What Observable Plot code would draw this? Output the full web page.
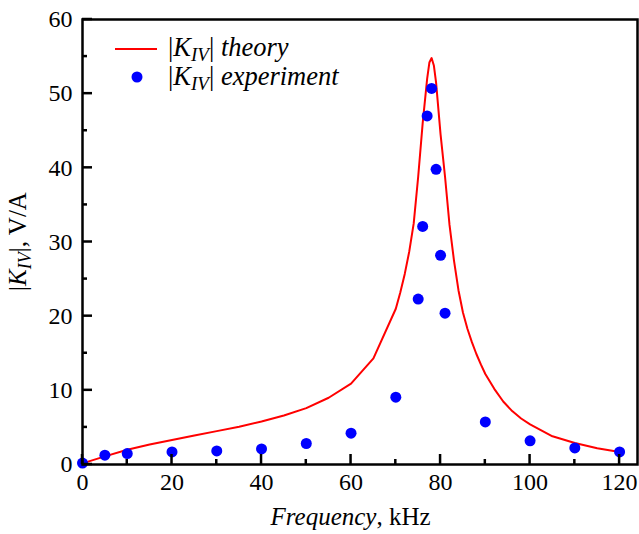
<!DOCTYPE html>
<html><head><meta charset="utf-8">
<script src="https://cdn.jsdelivr.net/npm/d3@7"></script>
<script src="https://cdn.jsdelivr.net/npm/@observablehq/plot@0.6"></script>
<style>body{margin:0;background:#fff}</style>
</head><body><div id="chart"></div>
<script>
// Theory curve |K_IV| (V/A) vs frequency (kHz)
const theoryFreq = [0,5,10,15,20,25,30,35,40,45,50,55,60,65,70,71,72,73,74,75,76,77,77.5,78,78.5,79,80,81,82,83,84,85,86,87,88,89,90,92,94,96,98,100,105,110,115,120];
const theoryK    = [0.15,1.1,2.0,2.7,3.3,3.9,4.5,5.1,5.8,6.6,7.6,9.0,10.9,14.3,21.0,23.2,25.7,28.7,32.5,38.8,46.0,52.0,54.2,54.8,53.8,51.5,44.5,38.8,32.3,27.5,23.5,20.5,18.3,16.5,14.9,13.5,12.2,10.2,8.5,7.2,6.2,5.4,3.8,2.9,2.2,1.7];
// Experiment points
const expFreq = [0,5,10,20,30,40,50,60,70,75,76,77,78,79,80,81,90,100,110,120];
const expK    = [0.2,1.25,1.48,1.7,1.83,2.1,2.83,4.22,9.07,22.3,32.1,47.0,50.7,39.8,28.2,20.4,5.74,3.2,2.24,1.7];
// Ticks
const xMajor = [0,20,40,60,80,100,120];
const xMinor = [10,30,50,70,90,110];
const yMajor = [0,10,20,30,40,50,60];
const yMinor = [5,15,25,35,45,55];

const theory = theoryFreq.map((f,i) => ({f, k: theoryK[i]}));
const experiment = expFreq.map((f,i) => ({f, k: expK[i]}));

const FONT = "'Liberation Serif','Times New Roman',serif";
const W = 639, H = 534, ML = 82, MR = 2, MT = 19, MB = 70;
const MAJ = 10, MIN = 5;
const plot = Plot.plot({
  width: W, height: H,
  marginLeft: ML, marginRight: MR, marginTop: MT, marginBottom: MB,
  style: {fontFamily: FONT, fontSize: "24px", color: "black", background: "white"},
  x: {domain: [0, 124], label: null},
  y: {domain: [0, 60], label: null},
  marks: [
    Plot.line(theory, {x: "f", y: "k", stroke: "#ff0000", strokeWidth: 2}),
    Plot.dot(experiment, {x: "f", y: "k", r: 5.5, fill: "#0000ff", stroke: "none"}),
    Plot.axisX({ticks: xMajor, tickSize: 0, tickPadding: 8, label: null, fontSize: 24}),
    Plot.axisY({ticks: yMajor, tickSize: 0, tickPadding: 10, label: null, fontSize: 24}),
    Plot.frame({stroke: "black", strokeWidth: 2.5})
  ]
});
document.getElementById("chart").appendChild(plot);

const svg = d3.select(plot);
const sx = plot.scale("x"), sy = plot.scale("y");
const x0 = sx.apply(0), yb = sy.apply(0);

// X axis title
const xt = svg.append("text")
  .attr("x", sx.apply(60)).attr("y", 525)
  .attr("text-anchor", "middle").attr("font-family", FONT).attr("font-size", 25).attr("fill", "black");
xt.append("tspan").attr("font-style", "italic").text("Frequency");
xt.append("tspan").text(", kHz");

// Y axis title
const yt = svg.append("text")
  .attr("transform", `translate(26,${(sy.apply(0) + sy.apply(60)) / 2}) rotate(-90)`)
  .attr("text-anchor", "middle").attr("font-family", FONT).attr("font-size", 25).attr("fill", "black");
yt.append("tspan").text("|");
yt.append("tspan").attr("font-style", "italic").text("K");
yt.append("tspan").attr("font-style", "italic").attr("font-size", 18).attr("dy", 5).text("IV");
yt.append("tspan").attr("dy", -5).text("|, V/A");

// Legend
function kLabel(g, x, y, word) {
  const t = g.append("text").attr("x", x).attr("y", y).attr("text-anchor", "start")
    .attr("font-family", FONT).attr("font-size", 26.5).attr("fill", "black");
  t.append("tspan").text("|");
  t.append("tspan").attr("font-style", "italic").text("K");
  t.append("tspan").attr("font-style", "italic").attr("font-size", 19).attr("dy", 5).text("IV");
  t.append("tspan").attr("dy", -5).text("| ");
  t.append("tspan").attr("font-style", "italic").text(word);
}
const lg = svg.append("g");
lg.append("line").attr("x1", 115).attr("x2", 157).attr("y1", 49).attr("y2", 49)
  .attr("stroke", "#ff0000").attr("stroke-width", 2);
kLabel(lg, 168, 56, "theory");
lg.append("circle").attr("cx", 137).attr("cy", 77).attr("r", 5.5).attr("fill", "#0000ff");
kLabel(lg, 168, 85, "experiment");

// Inward ticks placed with the plot's scales (drawn last, on top)
const tg = svg.append("g");
function tick(x1, y1, x2, y2) {
  tg.append("path").attr("d", `M${x1},${y1}L${x2},${y2}`)
    .attr("fill", "none").attr("stroke", "#000000").attr("stroke-width", 2.5);
}
for (const v of xMajor) tick(sx.apply(v), yb, sx.apply(v), yb - MAJ);
for (const v of xMinor) tick(sx.apply(v), yb, sx.apply(v), yb - MIN);
for (const v of yMajor) tick(x0, sy.apply(v), x0 + MAJ, sy.apply(v));
for (const v of yMinor) tick(x0, sy.apply(v), x0 + MIN, sy.apply(v));
</script>
</body></html>
